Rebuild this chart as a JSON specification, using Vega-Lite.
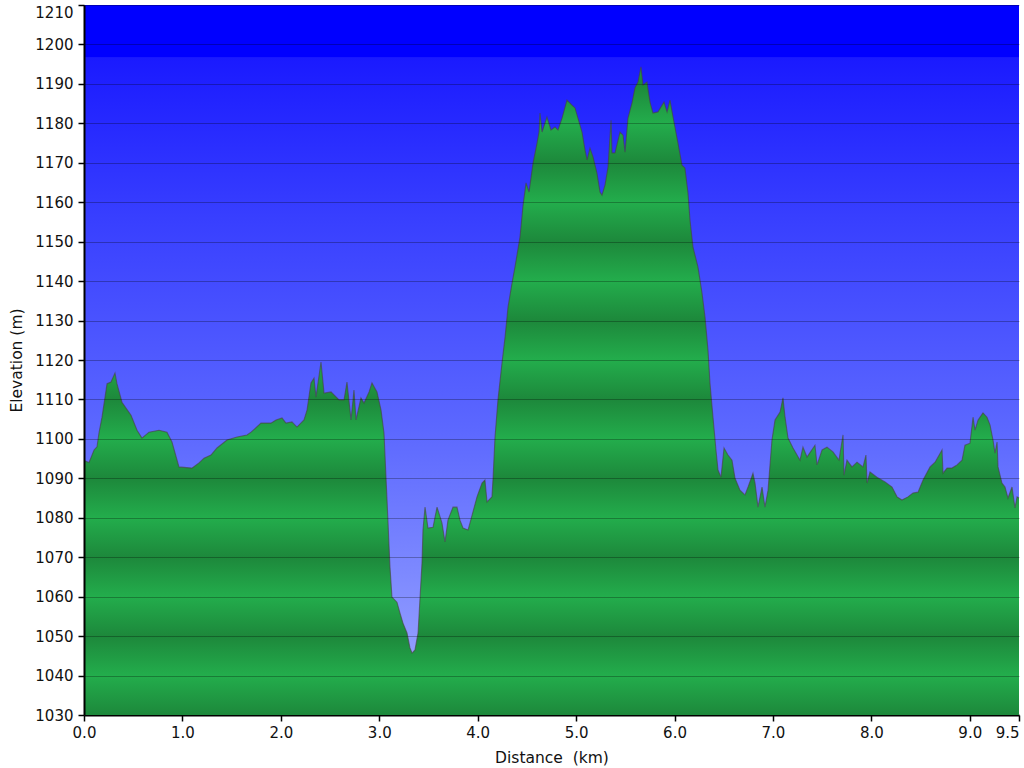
{
  "$schema": "https://vega.github.io/schema/vega-lite/v6.json",
  "width": 935,
  "height": 710,
  "autosize": {"type": "none"},
  "padding": {"left": 84, "top": 5, "right": 5, "bottom": 53},
  "background": "#ffffff",
  "config": {
    "view": {"stroke": null},
    "font": "DejaVu Sans",
    "axis": {
      "labelFont": "DejaVu Sans",
      "labelFontSize": 15,
      "labelColor": "#111111",
      "labelOverlap": false,
      "titleFont": "DejaVu Sans",
      "titleFontSize": 15.5,
      "titleFontWeight": "normal",
      "titleColor": "#111111",
      "domainColor": "#000000",
      "domainWidth": 2,
      "tickColor": "#000000",
      "tickWidth": 1.5,
      "tickSize": 6
    }
  },
  "layer": [
    {
      "data": {"values": [{"d": 0, "d2": 9.5, "elev": 1030, "elev2": 1210}]},
      "mark": {
        "type": "rect",
        "color": {
          "gradient": "linear",
          "x1": 0, "y1": 0, "x2": 0, "y2": 1,
          "stops": [
            {"offset": 0, "color": "#0000ff"},
            {"offset": 0.0735, "color": "#0000ff"},
            {"offset": 0.074, "color": "#1a1aff"},
            {"offset": 0.3, "color": "#383fff"},
            {"offset": 0.6, "color": "#5c68ff"},
            {"offset": 0.8, "color": "#7d89ff"},
            {"offset": 1, "color": "#a2acff"}
          ]
        }
      },
      "encoding": {
        "x": {
          "field": "d", "type": "quantitative",
          "scale": {"domain": [0, 9.5], "nice": false, "zero": false},
          "axis": {
            "title": "Distance\u00a0\u00a0(km)",
            "values": [0, 1, 2, 3, 4, 5, 6, 7, 8, 9, 9.5],
            "tickCount": 30,
            "format": ".1f",
            "grid": false,
            "labelOverlap": false,
            "labelPadding": 4,
            "titlePadding": 10,
            "labelAlign": {"condition": {"test": "datum.value == 9.5", "value": "right"}, "value": "center"}
          }
        },
        "x2": {"field": "d2"},
        "y": {
          "field": "elev", "type": "quantitative",
          "scale": {"domain": [1030, 1210], "nice": false, "zero": false},
          "axis": {
            "title": "Elevation (m)",
            "values": [1030, 1040, 1050, 1060, 1070, 1080, 1090, 1100, 1110, 1120, 1130, 1140, 1150, 1160, 1170, 1180, 1190, 1200, 1210],
            "tickCount": 40,
            "format": "d",
            "grid": true,
            "gridColor": "#000000",
            "gridOpacity": 0.28,
            "gridWidth": 1,
            "labelOverlap": false,
            "labelPadding": 5,
            "titlePadding": 10,
            "labelBaseline": {"condition": {"test": "datum.value == 1210", "value": "top"}, "value": "middle"},
            "zindex": 1
          }
        },
        "y2": {"field": "elev2"}
      }
    },
    {
      "data": {"name": "profile"},
      "mark": {
        "type": "area",
        "interpolate": "linear",
        "color": {
          "gradient": "linear",
          "x1": 0, "y1": 0, "x2": 0, "y2": 1,
          "stops": [
            {"offset": 0, "color": "#20a045"},
            {"offset": 0.02617, "color": "#1d883b"},
            {"offset": 0.08704, "color": "#23ad4c"},
            {"offset": 0.14790, "color": "#1d883b"},
            {"offset": 0.20876, "color": "#23ad4c"},
            {"offset": 0.26963, "color": "#1d883b"},
            {"offset": 0.33049, "color": "#23ad4c"},
            {"offset": 0.39136, "color": "#1d883b"},
            {"offset": 0.45222, "color": "#23ad4c"},
            {"offset": 0.51308, "color": "#1d883b"},
            {"offset": 0.57395, "color": "#23ad4c"},
            {"offset": 0.63481, "color": "#1d883b"},
            {"offset": 0.69568, "color": "#23ad4c"},
            {"offset": 0.75654, "color": "#1d883b"},
            {"offset": 0.81741, "color": "#23ad4c"},
            {"offset": 0.87827, "color": "#1d883b"},
            {"offset": 0.93914, "color": "#23ad4c"},
            {"offset": 1, "color": "#1d883b"}
          ]
        }
      },
      "encoding": {
        "x": {"field": "d", "type": "quantitative"},
        "y": {"field": "elev", "type": "quantitative"},
        "y2": {"datum": 1030}
      }
    },
    {
      "data": {"name": "profile"},
      "mark": {"type": "line", "color": "#4a4040", "opacity": 0.6, "strokeWidth": 1.1},
      "encoding": {
        "x": {"field": "d", "type": "quantitative"},
        "y": {"field": "elev", "type": "quantitative"}
      }
    }
  ],
  "datasets": {
    "profile": [
      {"d": 0.000, "elev": 1094.5}, {"d": 0.051, "elev": 1094.0}, {"d": 0.102, "elev": 1097.2}, {"d": 0.132, "elev": 1098.0},
      {"d": 0.152, "elev": 1101.5}, {"d": 0.183, "elev": 1105.5}, {"d": 0.234, "elev": 1114.0}, {"d": 0.274, "elev": 1114.4},
      {"d": 0.315, "elev": 1116.7}, {"d": 0.335, "elev": 1114.0}, {"d": 0.386, "elev": 1109.3}, {"d": 0.478, "elev": 1106.0},
      {"d": 0.539, "elev": 1102.2}, {"d": 0.589, "elev": 1100.2}, {"d": 0.660, "elev": 1101.7}, {"d": 0.762, "elev": 1102.2},
      {"d": 0.843, "elev": 1101.7}, {"d": 0.894, "elev": 1099.2}, {"d": 0.965, "elev": 1092.9}, {"d": 1.097, "elev": 1092.6},
      {"d": 1.168, "elev": 1093.9}, {"d": 1.219, "elev": 1095.1}, {"d": 1.290, "elev": 1095.9}, {"d": 1.351, "elev": 1097.7},
      {"d": 1.453, "elev": 1099.7}, {"d": 1.555, "elev": 1100.5}, {"d": 1.656, "elev": 1101.0}, {"d": 1.697, "elev": 1101.7},
      {"d": 1.798, "elev": 1104.0}, {"d": 1.900, "elev": 1104.0}, {"d": 1.951, "elev": 1104.8}, {"d": 2.012, "elev": 1105.3},
      {"d": 2.052, "elev": 1104.0}, {"d": 2.113, "elev": 1104.3}, {"d": 2.164, "elev": 1103.0}, {"d": 2.235, "elev": 1104.8},
      {"d": 2.266, "elev": 1107.3}, {"d": 2.306, "elev": 1114.2}, {"d": 2.337, "elev": 1115.4}, {"d": 2.357, "elev": 1110.6},
      {"d": 2.408, "elev": 1119.5}, {"d": 2.439, "elev": 1111.6}, {"d": 2.510, "elev": 1111.9}, {"d": 2.591, "elev": 1109.9},
      {"d": 2.642, "elev": 1109.9}, {"d": 2.672, "elev": 1114.4}, {"d": 2.713, "elev": 1104.8}, {"d": 2.743, "elev": 1112.4},
      {"d": 2.764, "elev": 1104.8}, {"d": 2.814, "elev": 1110.4}, {"d": 2.845, "elev": 1109.1}, {"d": 2.896, "elev": 1111.9},
      {"d": 2.926, "elev": 1114.2}, {"d": 2.977, "elev": 1111.9}, {"d": 3.018, "elev": 1107.3}, {"d": 3.048, "elev": 1101.5},
      {"d": 3.079, "elev": 1084.5}, {"d": 3.109, "elev": 1067.5}, {"d": 3.129, "elev": 1059.9}, {"d": 3.180, "elev": 1058.6},
      {"d": 3.211, "elev": 1055.8}, {"d": 3.241, "elev": 1053.3}, {"d": 3.282, "elev": 1050.8}, {"d": 3.312, "elev": 1047.0},
      {"d": 3.333, "elev": 1045.7}, {"d": 3.363, "elev": 1046.5}, {"d": 3.394, "elev": 1050.8}, {"d": 3.434, "elev": 1068.5},
      {"d": 3.444, "elev": 1076.9}, {"d": 3.465, "elev": 1082.7}, {"d": 3.495, "elev": 1077.4}, {"d": 3.546, "elev": 1077.6},
      {"d": 3.587, "elev": 1082.7}, {"d": 3.637, "elev": 1078.7}, {"d": 3.668, "elev": 1073.9}, {"d": 3.698, "elev": 1079.4},
      {"d": 3.749, "elev": 1082.7}, {"d": 3.790, "elev": 1082.7}, {"d": 3.820, "elev": 1079.4}, {"d": 3.851, "elev": 1077.4},
      {"d": 3.902, "elev": 1076.9}, {"d": 3.922, "elev": 1078.7}, {"d": 3.993, "elev": 1085.3}, {"d": 4.044, "elev": 1088.8},
      {"d": 4.074, "elev": 1089.6}, {"d": 4.095, "elev": 1084.0}, {"d": 4.145, "elev": 1085.3}, {"d": 4.156, "elev": 1090.0},
      {"d": 4.176, "elev": 1100.5}, {"d": 4.206, "elev": 1109.9}, {"d": 4.247, "elev": 1119.2}, {"d": 4.278, "elev": 1125.8},
      {"d": 4.308, "elev": 1133.4}, {"d": 4.349, "elev": 1139.5}, {"d": 4.379, "elev": 1143.6}, {"d": 4.430, "elev": 1151.2},
      {"d": 4.460, "elev": 1159.0}, {"d": 4.491, "elev": 1164.9}, {"d": 4.522, "elev": 1162.6}, {"d": 4.562, "elev": 1169.9},
      {"d": 4.603, "elev": 1175.0}, {"d": 4.623, "elev": 1177.8}, {"d": 4.633, "elev": 1182.6}, {"d": 4.654, "elev": 1177.8},
      {"d": 4.704, "elev": 1181.6}, {"d": 4.745, "elev": 1178.3}, {"d": 4.786, "elev": 1179.1}, {"d": 4.816, "elev": 1178.3},
      {"d": 4.857, "elev": 1181.3}, {"d": 4.907, "elev": 1185.9}, {"d": 4.958, "elev": 1184.6}, {"d": 4.989, "elev": 1183.9},
      {"d": 5.019, "elev": 1181.3}, {"d": 5.060, "elev": 1177.8}, {"d": 5.091, "elev": 1173.2}, {"d": 5.111, "elev": 1170.7},
      {"d": 5.141, "elev": 1173.7}, {"d": 5.172, "elev": 1171.5}, {"d": 5.212, "elev": 1167.4}, {"d": 5.243, "elev": 1162.6},
      {"d": 5.263, "elev": 1161.8}, {"d": 5.294, "elev": 1164.4}, {"d": 5.324, "elev": 1168.9}, {"d": 5.355, "elev": 1180.8},
      {"d": 5.365, "elev": 1172.5}, {"d": 5.395, "elev": 1172.5}, {"d": 5.446, "elev": 1177.8}, {"d": 5.477, "elev": 1177.0},
      {"d": 5.497, "elev": 1172.7}, {"d": 5.527, "elev": 1181.3}, {"d": 5.568, "elev": 1185.2}, {"d": 5.598, "elev": 1189.0},
      {"d": 5.629, "elev": 1190.5}, {"d": 5.659, "elev": 1194.3}, {"d": 5.680, "elev": 1189.7}, {"d": 5.720, "elev": 1190.5},
      {"d": 5.751, "elev": 1185.4}, {"d": 5.781, "elev": 1182.6}, {"d": 5.832, "elev": 1182.9}, {"d": 5.893, "elev": 1185.4},
      {"d": 5.924, "elev": 1182.9}, {"d": 5.954, "elev": 1185.9}, {"d": 5.985, "elev": 1181.6}, {"d": 6.035, "elev": 1175.0},
      {"d": 6.076, "elev": 1169.4}, {"d": 6.106, "elev": 1168.7}, {"d": 6.137, "elev": 1162.3}, {"d": 6.157, "elev": 1155.5},
      {"d": 6.188, "elev": 1148.6}, {"d": 6.238, "elev": 1143.6}, {"d": 6.279, "elev": 1137.0}, {"d": 6.310, "elev": 1130.9},
      {"d": 6.340, "elev": 1122.5}, {"d": 6.360, "elev": 1114.2}, {"d": 6.391, "elev": 1105.5}, {"d": 6.421, "elev": 1097.2},
      {"d": 6.442, "elev": 1092.1}, {"d": 6.472, "elev": 1090.3}, {"d": 6.503, "elev": 1097.7}, {"d": 6.543, "elev": 1095.9},
      {"d": 6.584, "elev": 1094.6}, {"d": 6.615, "elev": 1090.0}, {"d": 6.665, "elev": 1087.0}, {"d": 6.716, "elev": 1085.8},
      {"d": 6.747, "elev": 1087.8}, {"d": 6.797, "elev": 1091.3}, {"d": 6.818, "elev": 1088.8}, {"d": 6.848, "elev": 1082.7},
      {"d": 6.889, "elev": 1087.8}, {"d": 6.919, "elev": 1082.7}, {"d": 6.950, "elev": 1087.0}, {"d": 6.990, "elev": 1099.7},
      {"d": 7.021, "elev": 1104.8}, {"d": 7.072, "elev": 1106.8}, {"d": 7.102, "elev": 1110.4}, {"d": 7.123, "elev": 1105.5},
      {"d": 7.153, "elev": 1100.2}, {"d": 7.204, "elev": 1097.7}, {"d": 7.275, "elev": 1094.6}, {"d": 7.305, "elev": 1097.9},
      {"d": 7.346, "elev": 1095.4}, {"d": 7.427, "elev": 1098.4}, {"d": 7.448, "elev": 1093.4}, {"d": 7.499, "elev": 1097.2},
      {"d": 7.549, "elev": 1097.9}, {"d": 7.610, "elev": 1096.7}, {"d": 7.671, "elev": 1094.6}, {"d": 7.712, "elev": 1101.0},
      {"d": 7.722, "elev": 1090.8}, {"d": 7.752, "elev": 1094.6}, {"d": 7.803, "elev": 1092.9}, {"d": 7.854, "elev": 1094.1},
      {"d": 7.915, "elev": 1092.9}, {"d": 7.945, "elev": 1095.9}, {"d": 7.956, "elev": 1088.8}, {"d": 7.986, "elev": 1091.6},
      {"d": 8.057, "elev": 1090.3}, {"d": 8.139, "elev": 1089.1}, {"d": 8.210, "elev": 1087.8}, {"d": 8.261, "elev": 1085.3},
      {"d": 8.311, "elev": 1084.5}, {"d": 8.372, "elev": 1085.3}, {"d": 8.423, "elev": 1086.3}, {"d": 8.474, "elev": 1086.5},
      {"d": 8.525, "elev": 1089.6}, {"d": 8.596, "elev": 1092.9}, {"d": 8.647, "elev": 1094.1}, {"d": 8.718, "elev": 1097.2},
      {"d": 8.728, "elev": 1091.3}, {"d": 8.769, "elev": 1092.6}, {"d": 8.819, "elev": 1092.6}, {"d": 8.870, "elev": 1093.4},
      {"d": 8.921, "elev": 1094.6}, {"d": 8.951, "elev": 1098.4}, {"d": 9.002, "elev": 1098.9}, {"d": 9.033, "elev": 1105.5},
      {"d": 9.053, "elev": 1102.2}, {"d": 9.084, "elev": 1104.8}, {"d": 9.134, "elev": 1106.6}, {"d": 9.175, "elev": 1105.5},
      {"d": 9.206, "elev": 1103.5}, {"d": 9.236, "elev": 1099.7}, {"d": 9.256, "elev": 1096.4}, {"d": 9.277, "elev": 1099.2},
      {"d": 9.287, "elev": 1092.9}, {"d": 9.327, "elev": 1088.8}, {"d": 9.358, "elev": 1087.8}, {"d": 9.388, "elev": 1085.0},
      {"d": 9.429, "elev": 1087.8}, {"d": 9.459, "elev": 1082.5}, {"d": 9.480, "elev": 1085.3}, {"d": 9.500, "elev": 1085.0}
    ]
  }
}
